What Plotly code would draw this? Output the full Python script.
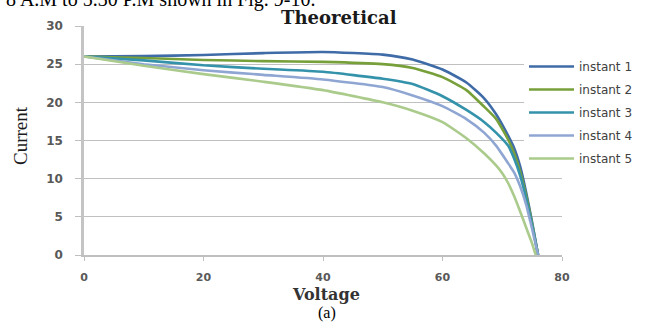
import plotly.graph_objects as go

# ---- data ----
series_names = ["instant 1", "instant 2", "instant 3", "instant 4", "instant 5"]
series_colors = ["#3f6ba7", "#77a03a", "#3492aa", "#8fa6d3", "#aacb8b"]

voltage_common = [0, 10, 20, 30, 40, 50, 55, 60, 64, 67, 69, 71, 72, 73, 74, 75, 76]
current_1 = [26.0, 26.05, 26.2, 26.45, 26.6, 26.25, 25.6, 24.3, 22.6, 20.5, 18.4, 15.6, 14.0, 11.6, 8.2, 4.3, 0]
current_2 = [26.0, 25.8, 25.55, 25.4, 25.3, 25.0, 24.5, 23.3, 21.6, 19.4, 17.8, 15.1, 13.3, 10.9, 7.8, 4.1, 0]
current_3 = [26.0, 25.5, 24.85, 24.4, 24.0, 23.1, 22.4, 20.8, 19.0, 17.4, 16.0, 14.3, 12.6, 10.4, 7.4, 3.9, 0]
current_4 = [26.0, 25.0, 24.2, 23.6, 23.0, 22.0, 20.9, 19.5, 17.8, 16.0, 14.3, 12.0, 10.8, 9.0, 6.6, 3.4, 0]

voltage_5 = [0, 10, 20, 30, 40, 50, 55, 60, 64, 67, 69, 70, 71, 72, 73, 74, 75, 75.6]
current_5 = [26.0, 24.8, 23.7, 22.7, 21.6, 20.0, 18.9, 17.4, 15.3, 13.3, 11.7, 10.7, 9.4, 7.7, 5.7, 3.6, 1.5, 0]

x_ticks = [0, 20, 40, 60, 80]
y_ticks = [0, 5, 10, 15, 20, 25, 30]

series_x = [voltage_common, voltage_common, voltage_common, voltage_common, voltage_5]
series_y = [current_1, current_2, current_3, current_4, current_5]

W, H = 650, 324
ML, MR, MT, MB = 84, 88, 26, 69

fig = go.Figure()
for name, color, xs, ys in zip(series_names, series_colors, series_x, series_y):
    fig.add_trace(go.Scatter(
        x=xs, y=ys, name=name, mode="lines",
        line=dict(color=color, width=2.6, shape="spline", smoothing=0.5),
        legendgroup=name,
    ))

tick_font = dict(family="DejaVu Sans", size=11, color="#595959", weight="bold")

fig.update_layout(
    width=W, height=H,
    margin=dict(l=ML, r=MR, t=MT, b=MB, pad=0),
    paper_bgcolor="white", plot_bgcolor="white",
    showlegend=True,
    legend=dict(
        x=(530 - 6 - ML) / (W - ML - MR), xanchor="left",
        y=(H - MB - 52) / (H - MT - MB), yanchor="top",
        bgcolor="white", borderwidth=0,
        font=dict(family="DejaVu Sans", size=12, color="#404040"),
        itemwidth=45, tracegroupgap=4,
    ),
    xaxis=dict(
        range=[0, 80], tickvals=x_ticks, ticktext=[str(v) for v in x_ticks],
        showgrid=False, zeroline=False,
        showline=True, linecolor="#bfbfbf", linewidth=1.5,
        ticks="outside", ticklen=4, tickcolor="#bfbfbf",
        tickfont=tick_font, ticklabelstandoff=7,
    ),
    yaxis=dict(
        range=[0, 30], tickvals=y_ticks, ticktext=[str(v) for v in y_ticks],
        showgrid=True, gridcolor="#c0c0c0", gridwidth=1, zeroline=False,
        showline=True, linecolor="#c4c4c4", linewidth=2.5,
        ticks="outside", ticklen=6, tickcolor="#bfbfbf",
        tickfont=dict(family="DejaVu Sans", size=12, color="#595959", weight="bold"),
        ticklabelstandoff=10,
    ),
)

def px_to_paper_x(px):
    return (px - ML) / (W - ML - MR)

def px_to_paper_y(py):
    return (H - MB - py) / (H - MT - MB)

annotations = [
    dict(text="Theoretical", x=px_to_paper_x(339), y=px_to_paper_y(18),
         font=dict(family="DejaVu Serif", size=18, color="#1a1a1a", weight="bold")),
    dict(text="Voltage", x=px_to_paper_x(326), y=px_to_paper_y(294),
         font=dict(family="DejaVu Serif", size=16, color="#333333", weight="bold")),
    dict(text="(a)", x=px_to_paper_x(327), y=px_to_paper_y(313),
         font=dict(family="Liberation Serif", size=16, color="#000000")),
    dict(text="Current", x=px_to_paper_x(20), y=px_to_paper_y(136), textangle=-90,
         font=dict(family="Liberation Serif", size=19, color="#1a1a1a")),
    dict(text="8 A.M to 5.30 P.M shown in Fig. 9-10.", x=px_to_paper_x(4), y=px_to_paper_y(0),
         xanchor="left",
         font=dict(family="Liberation Serif", size=20, color="#000000")),
]
for a in annotations:
    a.setdefault("xanchor", "center")
    a.update(xref="paper", yref="paper", yanchor="middle", showarrow=False)
fig.update_layout(annotations=annotations)

fig.write_html("out.html")
